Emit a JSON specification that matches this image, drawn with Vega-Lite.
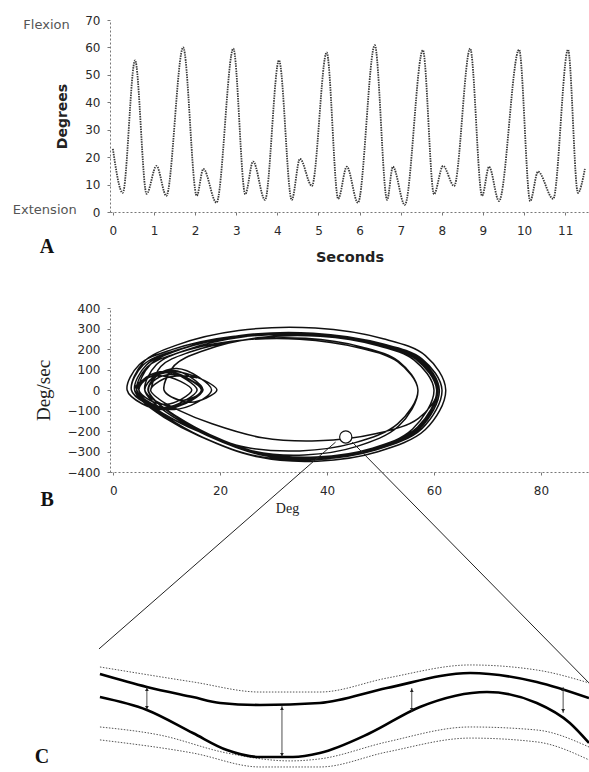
{
  "$schema": "https://vega.github.io/schema/vega-lite/v6.json",
  "background": "white",
  "padding": {"left": 12, "top": 14, "right": 0, "bottom": 2},
  "bounds": "flush",
  "spacing": 96,
  "config": {
    "view": {"stroke": null},
    "font": "DejaVu Sans",
    "axis": {
      "grid": false,
      "domainColor": "#777",
      "domainDash": [2, 2],
      "domainWidth": 1,
      "tickColor": "#777",
      "tickSize": 3,
      "labelFont": "DejaVu Sans",
      "labelFontSize": 12,
      "labelFontWeight": "normal",
      "labelColor": "#2a2a2a",
      "labelFlush": false,
      "labelOverlap": false,
      "titleColor": "#222"
    },
    "axisY": {"labelOverlap": false},
    "axisQuantitative": {"labelOverlap": false}
  },
  "datasets": {
    "angle": [
      {"t": 0, "a": 23}, {"t": 0.24, "a": 7}, {"t": 0.54, "a": 55.3}, {"t": 0.82, "a": 6.6},
      {"t": 1.06, "a": 16.8}, {"t": 1.3, "a": 5.9}, {"t": 1.71, "a": 60}, {"t": 2.04, "a": 5.9},
      {"t": 2.2, "a": 15.7}, {"t": 2.52, "a": 3.4}, {"t": 2.93, "a": 59.6}, {"t": 3.22, "a": 6.5},
      {"t": 3.41, "a": 18.4}, {"t": 3.7, "a": 4.4}, {"t": 4.04, "a": 55.3}, {"t": 4.35, "a": 4.4},
      {"t": 4.55, "a": 19.4}, {"t": 4.84, "a": 9.5}, {"t": 5.2, "a": 58.2}, {"t": 5.48, "a": 4.8},
      {"t": 5.69, "a": 16.5}, {"t": 5.96, "a": 3.4}, {"t": 6.37, "a": 60.8}, {"t": 6.67, "a": 4.4},
      {"t": 6.81, "a": 16.5}, {"t": 7.1, "a": 2.6}, {"t": 7.54, "a": 59}, {"t": 7.81, "a": 6.5},
      {"t": 8.03, "a": 16.8}, {"t": 8.3, "a": 9.5}, {"t": 8.69, "a": 59.6}, {"t": 8.98, "a": 5.9},
      {"t": 9.15, "a": 16.5}, {"t": 9.39, "a": 4}, {"t": 9.88, "a": 59.2}, {"t": 10.15, "a": 4},
      {"t": 10.34, "a": 14.7}, {"t": 10.71, "a": 4.8}, {"t": 11.07, "a": 59.2}, {"t": 11.31, "a": 7},
      {"t": 11.48, "a": 15.7}
    ],
    "phase": [
      {"d": 7, "v": 0},
      {"d": 8.9, "v": 115}, {"d": 14.2, "v": 184}, {"d": 23.9, "v": 242}, {"d": 36, "v": 252}, {"d": 46.6, "v": 209}, {"d": 53.4, "v": 140}, {"d": 57, "v": 0},
      {"d": 53.4, "v": -176}, {"d": 45.6, "v": -275}, {"d": 35.8, "v": -317}, {"d": 26.1, "v": -298}, {"d": 17.3, "v": -212}, {"d": 11.5, "v": -126}, {"d": 8.1, "v": -58}, {"d": 6.6, "v": 0},
      {"d": 8.1, "v": 67}, {"d": 11.2, "v": 95}, {"d": 14.8, "v": 57}, {"d": 16.8, "v": 0},
      {"d": 14.6, "v": -52}, {"d": 11.4, "v": -80}, {"d": 8.1, "v": -56}, {"d": 5.9, "v": 0},
      {"d": 8.1, "v": 124}, {"d": 14.0, "v": 198}, {"d": 24.8, "v": 261}, {"d": 38.4, "v": 272}, {"d": 50.3, "v": 226}, {"d": 57.8, "v": 151}, {"d": 61.5, "v": 0},
      {"d": 57.8, "v": -187}, {"d": 49.2, "v": -292}, {"d": 38.4, "v": -337}, {"d": 27.5, "v": -316}, {"d": 17.8, "v": -224}, {"d": 11.3, "v": -132}, {"d": 7.5, "v": -60}, {"d": 5.9, "v": 0},
      {"d": 7.4, "v": 60}, {"d": 10.3, "v": 85}, {"d": 13.7, "v": 51}, {"d": 15.7, "v": 0},
      {"d": 13.2, "v": -55}, {"d": 9.6, "v": -85}, {"d": 5.9, "v": -60}, {"d": 3.4, "v": 0},
      {"d": 5.6, "v": 122}, {"d": 11.8, "v": 194}, {"d": 23.1, "v": 257}, {"d": 37.1, "v": 267}, {"d": 49.5, "v": 221}, {"d": 57.2, "v": 149}, {"d": 61, "v": 0},
      {"d": 57.4, "v": -184}, {"d": 49.0, "v": -288}, {"d": 38.4, "v": -332}, {"d": 27.7, "v": -312}, {"d": 18.2, "v": -221}, {"d": 11.8, "v": -131}, {"d": 8.1, "v": -59}, {"d": 6.5, "v": 0},
      {"d": 8.3, "v": 74}, {"d": 11.9, "v": 105}, {"d": 16.0, "v": 63}, {"d": 18.4, "v": 0},
      {"d": 15.6, "v": -62}, {"d": 11.4, "v": -95}, {"d": 7.2, "v": -67}, {"d": 4.4, "v": 0},
      {"d": 6.4, "v": 113}, {"d": 12.0, "v": 180}, {"d": 22.2, "v": 238}, {"d": 34.9, "v": 248}, {"d": 46.1, "v": 205}, {"d": 53.2, "v": 138}, {"d": 57, "v": 0},
      {"d": 53.2, "v": -165}, {"d": 45.1, "v": -258}, {"d": 34.9, "v": -297}, {"d": 24.8, "v": -279}, {"d": 15.6, "v": -198}, {"d": 9.5, "v": -117}, {"d": 5.9, "v": -53}, {"d": 4.4, "v": 0},
      {"d": 6.7, "v": 63}, {"d": 11.2, "v": 90}, {"d": 16.4, "v": 54}, {"d": 19.4, "v": 0},
      {"d": 17.4, "v": -39}, {"d": 14.5, "v": -60}, {"d": 11.5, "v": -42}, {"d": 9.5, "v": 0},
      {"d": 11.4, "v": 119}, {"d": 16.8, "v": 191}, {"d": 26.5, "v": 252}, {"d": 38.7, "v": 262}, {"d": 49.4, "v": 217}, {"d": 56.3, "v": 146}, {"d": 60, "v": 0},
      {"d": 56.0, "v": -190}, {"d": 47.5, "v": -297}, {"d": 36.8, "v": -342}, {"d": 26.2, "v": -321}, {"d": 16.5, "v": -228}, {"d": 10.1, "v": -134}, {"d": 6.4, "v": -61}, {"d": 4.8, "v": 0},
      {"d": 6.6, "v": 60}, {"d": 10.1, "v": 85}, {"d": 14.2, "v": 51}, {"d": 16.5, "v": 0},
      {"d": 13.9, "v": -59}, {"d": 10.0, "v": -90}, {"d": 6.0, "v": -63}, {"d": 3.4, "v": 0},
      {"d": 5.7, "v": 137}, {"d": 12.0, "v": 220}, {"d": 23.5, "v": 290}, {"d": 37.8, "v": 302}, {"d": 50.5, "v": 250}, {"d": 58.4, "v": 168}, {"d": 62.2, "v": 0},
      {"d": 58.4, "v": -193}, {"d": 49.5, "v": -301}, {"d": 38.2, "v": -347}, {"d": 27.0, "v": -326}, {"d": 16.8, "v": -231}, {"d": 10.0, "v": -136}, {"d": 6.1, "v": -62}, {"d": 4.4, "v": 0},
      {"d": 6.2, "v": 63}, {"d": 9.8, "v": 90}, {"d": 14.1, "v": 54}, {"d": 16.5, "v": 0},
      {"d": 13.7, "v": -62}, {"d": 9.6, "v": -95}, {"d": 5.4, "v": -67}, {"d": 2.6, "v": 0},
      {"d": 4.9, "v": 124}, {"d": 11.1, "v": 198}, {"d": 22.3, "v": 261}, {"d": 36.4, "v": 272}, {"d": 48.8, "v": 226}, {"d": 56.6, "v": 151}, {"d": 60.5, "v": 0},
      {"d": 56.9, "v": -182}, {"d": 48.5, "v": -284}, {"d": 38.0, "v": -327}, {"d": 27.5, "v": -307}, {"d": 18.1, "v": -218}, {"d": 11.8, "v": -128}, {"d": 8.1, "v": -58}, {"d": 6.5, "v": 0},
      {"d": 8.0, "v": 53}, {"d": 11.1, "v": 75}, {"d": 14.7, "v": 45}, {"d": 16.8, "v": 0},
      {"d": 15.3, "v": -33}, {"d": 13.2, "v": -50}, {"d": 11.0, "v": -35}, {"d": 9.5, "v": 0},
      {"d": 11.5, "v": 121}, {"d": 17.0, "v": 193}, {"d": 27.0, "v": 255}, {"d": 39.6, "v": 265}, {"d": 50.6, "v": 220}, {"d": 57.6, "v": 147}, {"d": 61, "v": 0},
      {"d": 57.4, "v": -186}, {"d": 48.9, "v": -291}, {"d": 38.1, "v": -335}, {"d": 27.4, "v": -314}, {"d": 17.7, "v": -223}, {"d": 11.3, "v": -132}, {"d": 7.5, "v": -60}, {"d": 5.9, "v": 0},
      {"d": 7.5, "v": 60}, {"d": 10.7, "v": 85}, {"d": 14.4, "v": 51}, {"d": 16.5, "v": 0},
      {"d": 14.0, "v": -55}, {"d": 10.3, "v": -85}, {"d": 6.5, "v": -60}, {"d": 4, "v": 0},
      {"d": 6.2, "v": 122}, {"d": 12.3, "v": 196}, {"d": 23.3, "v": 258}, {"d": 37.1, "v": 269}, {"d": 49.3, "v": 223}, {"d": 56.9, "v": 150}, {"d": 60.7, "v": 0},
      {"d": 56.9, "v": -188}, {"d": 48.2, "v": -294}, {"d": 37.1, "v": -339}, {"d": 26.1, "v": -318}, {"d": 16.1, "v": -225}, {"d": 9.5, "v": -133}, {"d": 5.7, "v": -60}, {"d": 4, "v": 0},
      {"d": 5.6, "v": 49}, {"d": 8.8, "v": 70}, {"d": 12.6, "v": 42}, {"d": 14.7, "v": 0},
      {"d": 12.7, "v": -46}, {"d": 9.8, "v": -70}, {"d": 6.8, "v": -49}, {"d": 4.8, "v": 0},
      {"d": 7.0, "v": 126}, {"d": 13.0, "v": 202}, {"d": 23.8, "v": 266}, {"d": 37.4, "v": 277}, {"d": 49.4, "v": 230}, {"d": 56.9, "v": 154}, {"d": 60.7, "v": 0},
      {"d": 57.1, "v": -138}, {"d": 48.8, "v": -215}, {"d": 38.3, "v": -248}, {"d": 27.9, "v": -233}, {"d": 18.5, "v": -165}, {"d": 12.2, "v": -98}, {"d": 8.6, "v": -45}, {"d": 7, "v": 0},
      {"d": 9.5, "v": 55}, {"d": 13, "v": 70}, {"d": 15.7, "v": 60}
    ],
    "zoomLines": [
      {"d1": -2.66, "v1": -1263, "d2": 41.6, "v2": -254},
      {"d1": 44.7, "v1": -254, "d2": 89.0, "v2": -1429}
    ],
    "marker": [{"d": 43.5, "v": -229}],
    "cSolid": [
      {"s": "upper", "x": -2.1, "y": 47.5}, {"s": "upper", "x": 7.7, "y": 41.1}, {"s": "upper", "x": 17.3, "y": 36.1}, {"s": "upper", "x": 23, "y": 33.2}, {"s": "upper", "x": 31.3, "y": 32.2}, {"s": "upper", "x": 43.8, "y": 33.2}, {"s": "upper", "x": 57.8, "y": 40.6}, {"s": "upper", "x": 75.2, "y": 48.0}, {"s": "upper", "x": 89.1, "y": 43.6}, {"s": "upper", "x": 100, "y": 35.6},
      {"s": "lower", "x": -2.1, "y": 36.1}, {"s": "lower", "x": 7.7, "y": 29.7}, {"s": "lower", "x": 17.3, "y": 18.3}, {"s": "lower", "x": 24.4, "y": 9.9}, {"s": "lower", "x": 31.3, "y": 6.4}, {"s": "lower", "x": 38.2, "y": 6.4}, {"s": "lower", "x": 43.8, "y": 8.4}, {"s": "lower", "x": 54.3, "y": 18.3}, {"s": "lower", "x": 64.7, "y": 31.2}, {"s": "lower", "x": 78.7, "y": 38.6}, {"s": "lower", "x": 89.1, "y": 33.2}, {"s": "lower", "x": 96, "y": 23.3}, {"s": "lower", "x": 100, "y": 13.4}
    ],
    "cDotted": [
      {"s": "ud", "x": -2.1, "y": 51.0}, {"s": "ud", "x": 17.3, "y": 43.6}, {"s": "ud", "x": 31.3, "y": 38.6}, {"s": "ud", "x": 43.8, "y": 38.6}, {"s": "ud", "x": 57.8, "y": 45.5}, {"s": "ud", "x": 75.2, "y": 52.0}, {"s": "ud", "x": 89.1, "y": 49.5}, {"s": "ud", "x": 100, "y": 43.1},
      {"s": "ld1", "x": -2.1, "y": 21.3}, {"s": "ld1", "x": 10.4, "y": 17.3}, {"s": "ld1", "x": 24.4, "y": 8.4}, {"s": "ld1", "x": 37.6, "y": 4.5}, {"s": "ld1", "x": 43.8, "y": 5.5}, {"s": "ld1", "x": 57.8, "y": 13.9}, {"s": "ld1", "x": 75.2, "y": 21.3}, {"s": "ld1", "x": 89.1, "y": 19.8}, {"s": "ld1", "x": 100, "y": 11.4},
      {"s": "ld2", "x": -2.1, "y": 14.9}, {"s": "ld2", "x": 17.3, "y": 8.4}, {"s": "ld2", "x": 31.3, "y": 1.5}, {"s": "ld2", "x": 43.8, "y": 1.5}, {"s": "ld2", "x": 57.8, "y": 8.9}, {"s": "ld2", "x": 75.2, "y": 15.8}, {"s": "ld2", "x": 89.1, "y": 13.9}, {"s": "ld2", "x": 100, "y": 5.0}
    ],
    "arrows": [
      {"x": 7.7, "y1": 41.1, "y2": 29.7},
      {"x": 35.9, "y1": 31.7, "y2": 6.4},
      {"x": 63.0, "y1": 40.6, "y2": 28.7},
      {"x": 94.6, "y1": 41.1, "y2": 28.2}
    ]
  },
  "vconcat": [
    {
      "width": 479,
      "height": 192,
      "layer": [
        {
          "data": {"name": "angle"},
          "mark": {"type": "line", "interpolate": "monotone", "color": "#3a3a3a", "strokeWidth": 1.8, "strokeDash": [1.5, 1]},
          "encoding": {
            "x": {"field": "t", "type": "quantitative",
              "scale": {"domain": [-0.07, 11.58], "nice": false, "zero": false},
              "axis": {"values": [0, 1, 2, 3, 4, 5, 6, 7, 8, 9, 10, 11], "labelOverlap": false, "title": "Seconds", "titleFont": "DejaVu Sans", "titleFontSize": 14.5, "titleFontWeight": "bold", "titlePadding": 14, "labelPadding": 10}},
            "y": {"field": "a", "type": "quantitative",
              "scale": {"domain": [0, 70], "nice": false},
              "axis": {"values": [0, 10, 20, 30, 40, 50, 60, 70], "labelOverlap": false, "title": "Degrees", "titleFont": "DejaVu Sans", "titleFontSize": 14, "titleFontWeight": "bold", "titleX": -48, "titleBaseline": "middle", "labelPadding": 7}}
          }
        },
        {
          "data": {"values": [{}]},
          "mark": {"type": "text", "text": "Flexion", "align": "right", "baseline": "middle", "font": "DejaVu Sans", "fontSize": 13, "color": "#555"},
          "encoding": {
            "x": {"datum": -1.05, "type": "quantitative", "axis": {"values": [0, 1, 2, 3, 4, 5, 6, 7, 8, 9, 10, 11], "labelOverlap": false, "title": "Seconds", "titleFont": "DejaVu Sans", "titleFontSize": 14.5, "titleFontWeight": "bold", "titlePadding": 14, "labelPadding": 10}},
            "y": {"datum": 68.2, "type": "quantitative", "axis": {"values": [0, 10, 20, 30, 40, 50, 60, 70], "labelOverlap": false, "title": "Degrees", "titleFont": "DejaVu Sans", "titleFontSize": 14, "titleFontWeight": "bold", "titleX": -48, "titleBaseline": "middle", "labelPadding": 7}}
          }
        },
        {
          "data": {"values": [{}]},
          "mark": {"type": "text", "text": "Extension", "align": "right", "baseline": "middle", "font": "DejaVu Sans", "fontSize": 13, "color": "#555"},
          "encoding": {
            "x": {"datum": -0.88, "type": "quantitative", "axis": {"values": [0, 1, 2, 3, 4, 5, 6, 7, 8, 9, 10, 11], "labelOverlap": false, "title": "Seconds", "titleFont": "DejaVu Sans", "titleFontSize": 14.5, "titleFontWeight": "bold", "titlePadding": 14, "labelPadding": 10}},
            "y": {"datum": 0.7, "type": "quantitative", "axis": {"values": [0, 10, 20, 30, 40, 50, 60, 70], "labelOverlap": false, "title": "Degrees", "titleFont": "DejaVu Sans", "titleFontSize": 14, "titleFontWeight": "bold", "titleX": -48, "titleBaseline": "middle", "labelPadding": 7}}
          }
        },
        {
          "data": {"values": [{}]},
          "mark": {"type": "text", "text": "A", "align": "center", "baseline": "middle", "font": "Liberation Serif", "fontSize": 20, "fontWeight": "bold", "color": "#111"},
          "encoding": {
            "x": {"datum": -1.6, "type": "quantitative", "axis": {"values": [0, 1, 2, 3, 4, 5, 6, 7, 8, 9, 10, 11], "labelOverlap": false, "title": "Seconds", "titleFont": "DejaVu Sans", "titleFontSize": 14.5, "titleFontWeight": "bold", "titlePadding": 14, "labelPadding": 10}},
            "y": {"datum": -12.8, "type": "quantitative", "axis": {"values": [0, 10, 20, 30, 40, 50, 60, 70], "labelOverlap": false, "title": "Degrees", "titleFont": "DejaVu Sans", "titleFontSize": 14, "titleFontWeight": "bold", "titleX": -48, "titleBaseline": "middle", "labelPadding": 7}}
          }
        }
      ]
    },
    {
      "width": 479,
      "height": 164,
      "layer": [
        {
          "data": {"name": "phase"},
          "mark": {"type": "line", "interpolate": "catmull-rom", "color": "#111", "strokeWidth": 1.5},
          "encoding": {
            "x": {"field": "d", "type": "quantitative",
              "scale": {"domain": [-0.6, 89], "nice": false, "zero": false},
              "axis": {"values": [0, 20, 40, 60, 80], "labelOverlap": false, "title": "Deg", "titleFont": "Liberation Serif", "titleFontSize": 14, "titleFontWeight": "normal", "titleX": 177, "titleY": 36, "titleBaseline": "middle", "titleAlign": "center", "labelPadding": 10}},
            "y": {"field": "v", "type": "quantitative",
              "scale": {"domain": [-400, 400], "nice": false},
              "axis": {"values": [-400, -300, -200, -100, 0, 100, 200, 300, 400], "labelOverlap": false, "title": "Deg/sec", "titleFont": "Liberation Serif", "titleFontSize": 19, "titleFontWeight": "normal", "titleX": -67, "titleBaseline": "middle", "labelPadding": 7}},
            "order": {"value": null}
          }
        },
        {
          "data": {"name": "zoomLines"},
          "mark": {"type": "rule", "color": "#222", "strokeWidth": 1},
          "encoding": {
            "x": {"field": "d1", "type": "quantitative", "axis": {"values": [0, 20, 40, 60, 80], "labelOverlap": false, "title": "Deg", "titleFont": "Liberation Serif", "titleFontSize": 14, "titleFontWeight": "normal", "titleX": 177, "titleY": 36, "titleBaseline": "middle", "titleAlign": "center", "labelPadding": 10}},
            "y": {"field": "v1", "type": "quantitative", "axis": {"values": [-400, -300, -200, -100, 0, 100, 200, 300, 400], "labelOverlap": false, "title": "Deg/sec", "titleFont": "Liberation Serif", "titleFontSize": 19, "titleFontWeight": "normal", "titleX": -67, "titleBaseline": "middle", "labelPadding": 7}},
            "x2": {"field": "d2"},
            "y2": {"field": "v2"}
          }
        },
        {
          "data": {"name": "marker"},
          "mark": {"type": "circle", "fill": "white", "stroke": "#111", "strokeWidth": 1.2, "size": 150, "opacity": 1},
          "encoding": {
            "x": {"field": "d", "type": "quantitative", "axis": {"values": [0, 20, 40, 60, 80], "labelOverlap": false, "title": "Deg", "titleFont": "Liberation Serif", "titleFontSize": 14, "titleFontWeight": "normal", "titleX": 177, "titleY": 36, "titleBaseline": "middle", "titleAlign": "center", "labelPadding": 10}},
            "y": {"field": "v", "type": "quantitative", "axis": {"values": [-400, -300, -200, -100, 0, 100, 200, 300, 400], "labelOverlap": false, "title": "Deg/sec", "titleFont": "Liberation Serif", "titleFontSize": 19, "titleFontWeight": "normal", "titleX": -67, "titleBaseline": "middle", "labelPadding": 7}}
          }
        },
        {
          "data": {"values": [{}]},
          "mark": {"type": "text", "text": "B", "align": "center", "baseline": "middle", "font": "Liberation Serif", "fontSize": 20, "fontWeight": "bold", "color": "#111"},
          "encoding": {
            "x": {"datum": -12.35, "type": "quantitative", "axis": {"values": [0, 20, 40, 60, 80], "labelOverlap": false, "title": "Deg", "titleFont": "Liberation Serif", "titleFontSize": 14, "titleFontWeight": "normal", "titleX": 177, "titleY": 36, "titleBaseline": "middle", "titleAlign": "center", "labelPadding": 10}},
            "y": {"datum": -537, "type": "quantitative", "axis": {"values": [-400, -300, -200, -100, 0, 100, 200, 300, 400], "labelOverlap": false, "title": "Deg/sec", "titleFont": "Liberation Serif", "titleFontSize": 19, "titleFontWeight": "normal", "titleX": -67, "titleBaseline": "middle", "labelPadding": 7}}
          }
        }
      ]
    },
    {
      "width": 479,
      "height": 202,
      "layer": [
        {
          "data": {"name": "cDotted"},
          "mark": {"type": "line", "interpolate": "monotone", "color": "#555", "strokeWidth": 1, "strokeDash": [1.5, 1.5]},
          "encoding": {
            "x": {"field": "x", "type": "quantitative", "scale": {"domain": [0, 100], "nice": false, "zero": false}, "axis": null},
            "y": {"field": "y", "type": "quantitative", "scale": {"domain": [0, 100], "nice": false, "zero": false}, "axis": null},
            "detail": {"field": "s"}
          }
        },
        {
          "data": {"name": "cSolid"},
          "mark": {"type": "line", "interpolate": "monotone", "color": "#000", "strokeWidth": 2.6},
          "encoding": {
            "x": {"field": "x", "type": "quantitative", "axis": null},
            "y": {"field": "y", "type": "quantitative", "axis": null},
            "detail": {"field": "s"}
          }
        },
        {
          "data": {"name": "arrows"},
          "mark": {"type": "rule", "color": "#222", "strokeWidth": 0.8},
          "encoding": {
            "x": {"field": "x", "type": "quantitative", "axis": null},
            "y": {"field": "y1", "type": "quantitative", "axis": null},
            "y2": {"field": "y2"}
          }
        },
        {
          "data": {"name": "arrows"},
          "mark": {"type": "point", "shape": "triangle-up", "filled": true, "color": "#222", "size": 14, "yOffset": 2.5, "opacity": 1},
          "encoding": {
            "x": {"field": "x", "type": "quantitative", "axis": null},
            "y": {"field": "y1", "type": "quantitative", "axis": null}
          }
        },
        {
          "data": {"name": "arrows"},
          "mark": {"type": "point", "shape": "triangle-down", "filled": true, "color": "#222", "size": 14, "yOffset": -2.5, "opacity": 1},
          "encoding": {
            "x": {"field": "x", "type": "quantitative", "axis": null},
            "y": {"field": "y2", "type": "quantitative", "axis": null}
          }
        },
        {
          "data": {"values": [{}]},
          "mark": {"type": "text", "text": "C", "align": "center", "baseline": "middle", "font": "Liberation Serif", "fontSize": 20, "fontWeight": "bold", "color": "#111"},
          "encoding": {"x": {"datum": -14.2, "type": "quantitative", "axis": null}, "y": {"datum": 6.4, "type": "quantitative", "axis": null}}
        }
      ]
    }
  ]
}
